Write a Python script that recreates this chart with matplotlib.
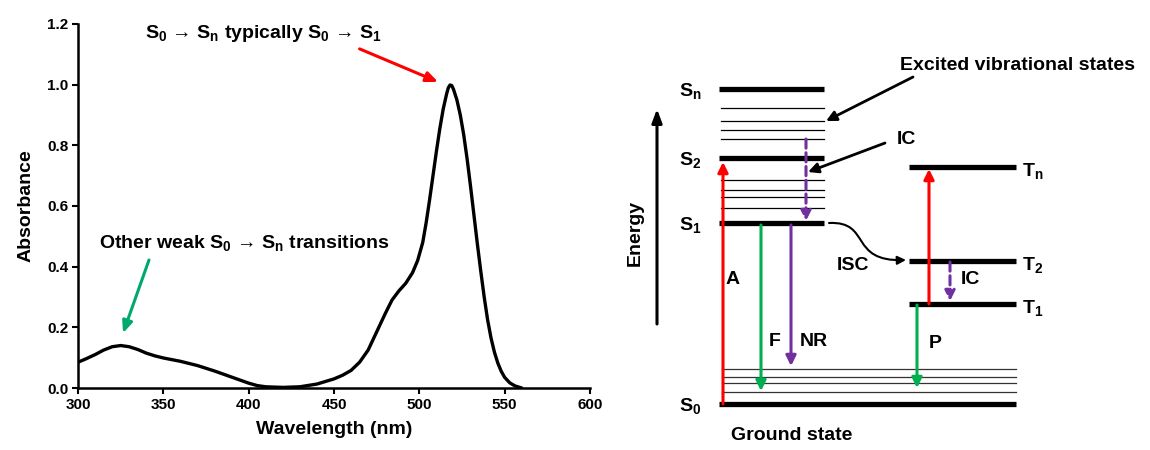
import matplotlib
matplotlib.use("Agg")
import matplotlib.pyplot as plt
from matplotlib.patches import FancyArrowPatch
from matplotlib.path import Path

plt.rcParams['font.family'] = ['Liberation Sans', 'DejaVu Sans']
plt.rcParams['font.weight'] = 'bold'
plt.rcParams['mathtext.fontset'] = 'custom'
plt.rcParams['mathtext.rm'] = 'Liberation Sans:bold'
plt.rcParams['mathtext.it'] = 'Liberation Sans:bold'
plt.rcParams['mathtext.bf'] = 'Liberation Sans:bold'
plt.rcParams['mathtext.default'] = 'rm'

# ---------------- data: absorption spectrum ----------------
wavelength = [300, 305, 310, 315, 320, 325, 330, 335, 340, 345, 350, 360, 370, 380,
              390, 400, 405, 410, 420, 430, 440, 450, 455, 460, 465, 470, 475, 480,
              484, 488, 492, 496, 499, 502, 504, 506, 508, 510, 512, 514, 516, 517,
              518, 519, 520, 522, 524, 526, 528, 530, 532, 534, 536, 538, 540, 542,
              544, 546, 548, 550, 553, 556, 560]
absorbance = [0.085, 0.097, 0.110, 0.125, 0.136, 0.140, 0.136, 0.127, 0.115, 0.106,
              0.099, 0.088, 0.074, 0.056, 0.036, 0.016, 0.008, 0.004, 0.002, 0.004,
              0.013, 0.030, 0.042, 0.058, 0.085, 0.125, 0.185, 0.245, 0.290, 0.320,
              0.345, 0.380, 0.420, 0.480, 0.545, 0.620, 0.700, 0.780, 0.855, 0.920,
              0.970, 0.990, 0.999, 0.997, 0.985, 0.950, 0.900, 0.835, 0.755, 0.665,
              0.570, 0.475, 0.385, 0.300, 0.225, 0.165, 0.118, 0.082, 0.055, 0.035,
              0.017, 0.007, 0.000]
x_ticks = [300, 350, 400, 450, 500, 550, 600]
y_ticks = [0.0, 0.2, 0.4, 0.6, 0.8, 1.0, 1.2]
y_tick_labels = ['0.0', '0.2', '0.4', '0.6', '0.8', '1.0', '1.2']

# ---------------- data: Jablonski diagram (energy levels) ----------------
singlet_names = ['S$_0$', 'S$_1$', 'S$_2$', 'S$_n$']
singlet_y = [404, 223, 158, 89]
triplet_names = ['T$_1$', 'T$_2$', 'T$_n$']
triplet_y = [304, 261, 167]
vib_upper = [108, 121, 130, 139]
vib_middle = [180, 190, 197, 208]
vib_ground = [369, 377, 383, 392]

RED = '#FF0000'
GREEN = '#00B050'
PURPLE = '#7030A0'

fig = plt.figure(figsize=(11.5, 4.5), dpi=100)

# ---------------- left: spectrum ----------------
ax = fig.add_axes([78/1150, 62/450, 512/1150, 364/450])
ax.plot(wavelength, absorbance, color='black', lw=2.4, solid_capstyle='round',
        solid_joinstyle='round')
ax.set_xlim(300, 600)
ax.set_ylim(0, 1.2)
ax.set_xticks(x_ticks)
ax.set_yticks(y_ticks)
ax.set_yticklabels(y_tick_labels)
for s in ['top', 'right']:
    ax.spines[s].set_visible(False)
for s in ['left', 'bottom']:
    ax.spines[s].set_linewidth(1.8)
ax.tick_params(direction='out', length=4, width=1.5, labelsize=11, pad=3)
for lab in ax.get_xticklabels() + ax.get_yticklabels():
    lab.set_fontweight('bold')
ax.set_xlabel('Wavelength (nm)', fontsize=14, fontweight='bold', labelpad=7)
ax.set_ylabel('Absorbance', fontsize=14, fontweight='bold', labelpad=9)

ax.text(408.5, 1.17, r'S$_0$ → S$_n$ typically S$_0$ → S$_1$', fontsize=14,
        ha='center', va='center', fontweight='bold')
ax.annotate('', xy=(511, 1.009), xytext=(465, 1.118),
            arrowprops=dict(arrowstyle='-|>,head_length=0.7,head_width=0.3',
                            color=RED, lw=2.2, shrinkA=0, shrinkB=0))
ax.text(397.5, 0.478, r'Other weak S$_0$ → S$_n$ transitions', fontsize=14,
        ha='center', va='center', fontweight='bold')
ax.annotate('', xy=(326.4, 0.181), xytext=(341.6, 0.422),
            arrowprops=dict(arrowstyle='-|>,head_length=0.7,head_width=0.3',
                            color='#00A86B', lw=2.2, shrinkA=0, shrinkB=0))

# ---------------- right: Jablonski diagram (pixel-like coordinates) ----------------
bx = fig.add_axes([600/1150, 0, 550/1150, 1])
bx.set_xlim(600, 1150)
bx.set_ylim(450, 0)
bx.axis('off')

S_X0, S_X1 = 719, 824
T_X0, T_X1 = 909, 1016

for name, y in zip(singlet_names, singlet_y):
    x1 = T_X1 if name == 'S$_0$' else S_X1
    bx.plot([S_X0, x1], [y, y], color='black', lw=3.8, solid_capstyle='butt')
    bx.text(690, y + 2, name, fontsize=14, ha='center', va='center')
for name, y in zip(triplet_names, triplet_y):
    bx.plot([T_X0, T_X1], [y, y], color='black', lw=3.8, solid_capstyle='butt')
    bx.text(1033, y + 4, name, fontsize=14, ha='center', va='center')
for y in vib_upper + vib_middle:
    bx.plot([S_X0 + 2, S_X1], [y, y], color='black', lw=0.9)
for y in vib_ground:
    bx.plot([S_X0 + 3, T_X1], [y, y], color='#333333', lw=0.9)


def arrow(x0, y0, x1, y1, color, ls='-', lw=2.2, hl=0.6, hw=0.3):
    bx.annotate('', xy=(x1, y1), xytext=(x0, y0),
                arrowprops=dict(arrowstyle=f'-|>,head_length={hl},head_width={hw}',
                                color=color, lw=lw, linestyle=ls,
                                shrinkA=0, shrinkB=0))


# energy axis arrow
arrow(657, 324, 657, 109, 'black', lw=2.2, hl=0.8, hw=0.3)
bx.text(635, 233, 'Energy', fontsize=14, rotation=90, ha='center', va='center')

# transitions
arrow(723, 404, 723, 162, RED)
arrow(761, 225, 761, 391, GREEN)
arrow(791, 225, 791, 366, PURPLE)
arrow(806, 139, 806, 221, PURPLE, ls=(0, (3, 1.5)))
arrow(929, 304, 929, 169, RED)
arrow(950, 262, 950, 301, PURPLE, ls=(0, (3, 1.5)))
arrow(917, 305, 917, 388, GREEN)

# labels on transitions
bx.text(733, 280, 'A', fontsize=14, ha='center', va='center')
bx.text(775, 342, 'F', fontsize=14, ha='center', va='center')
bx.text(814, 342, 'NR', fontsize=14, ha='center', va='center')
bx.text(935, 343, 'P', fontsize=14, ha='center', va='center')
bx.text(970, 280, 'IC', fontsize=14, ha='center', va='center')
bx.text(853, 266, 'ISC', fontsize=14, ha='center', va='center')

# ISC curved arrow
isc = Path([(829, 223), (872, 221), (848, 262), (906, 260)],
           [Path.MOVETO, Path.CURVE4, Path.CURVE4, Path.CURVE4])
bx.add_patch(FancyArrowPatch(path=isc, arrowstyle='-|>,head_length=5,head_width=2.5',
                             color='black', lw=1.5))

# callouts
bx.text(906, 140, 'IC', fontsize=14, ha='center', va='center')
arrow(885, 143, 808, 172, 'black', lw=2.0)
bx.text(900, 65, 'Excited vibrational states', fontsize=14, ha='left', va='center')
arrow(913, 77, 826, 121, 'black', lw=2.0)
bx.text(792, 435, 'Ground state', fontsize=14, ha='center', va='center')

fig.savefig('out.png', dpi=100)
